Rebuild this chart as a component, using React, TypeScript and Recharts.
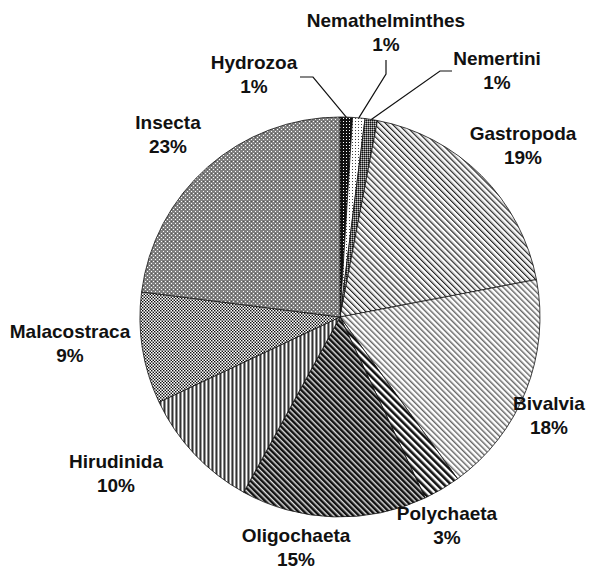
import { PieChart, Pie, Cell } from "recharts";

const categories = [
  "Hydrozoa", "Nemathelminthes", "Nemertini", "Gastropoda", "Bivalvia",
  "Polychaeta", "Oligochaeta", "Hirudinida", "Malacostraca", "Insecta",
];
const shares = [1, 1, 1, 19, 18, 3, 15, 10, 9, 23];
const patternIds = [
  "pHyd", "pNem", "pNmt", "pGas", "pBiv", "pPol", "pOli", "pHir", "pMal", "pIns",
];

const data = categories.map((name, i) => ({ name, value: shares[i] }));

// label anchor (first baseline) relative to pie centre
const labelPos: Record<string, [number, number]> = {
  Hydrozoa: [-86, -248],
  Nemathelminthes: [46, -290],
  Nemertini: [157, -252],
  Gastropoda: [183, -177],
  Bivalvia: [209, 93],
  Polychaeta: [107, 203],
  Oligochaeta: [-44, 225],
  Hirudinida: [-224, 151],
  Malacostraca: [-270, 21],
  Insecta: [-172, -188],
};

// leader lines for the tiny slices: start and elbow, relative to centre
const leaders: Record<string, [number, number][]> = {
  Hydrozoa: [[-40, -240], [-27, -240]],
  Nemathelminthes: [[46, -257], [46, -243]],
  Nemertini: [[112, -246], [100, -246]],
};

const RAD = Math.PI / 180;

const renderLabel = (props: any) => {
  const { cx, cy, midAngle, outerRadius, name, value } = props;
  const [dx, dy] = labelPos[name];
  const x = cx + dx;
  const y = cy + dy;
  const lead = leaders[name];
  let line = null;
  if (lead) {
    const ex = cx + outerRadius * Math.cos(-midAngle * RAD);
    const ey = cy + outerRadius * Math.sin(-midAngle * RAD);
    const pts = lead.map(([a, b]) => `${cx + a},${cy + b}`).join(" ") + ` ${ex},${ey}`;
    line = <polyline points={pts} fill="none" stroke="#111" strokeWidth={1.2} />;
  }
  return (
    <g key={name}>
      {line}
      <text
        x={x}
        y={y}
        textAnchor="middle"
        fill="#111"
        fontFamily="'Liberation Sans', Arial, sans-serif"
        fontWeight="bold"
        fontSize={19}
      >
        <tspan x={x}>{name}</tspan>
        <tspan x={x} dy={24}>{`${value}%`}</tspan>
      </text>
    </g>
  );
};

export default function App() {
  return (
    <div style={{ position: "absolute", left: 0, top: 0, background: "#fff" }}>
      <PieChart width={598} height={570}>
        <defs>
          <pattern id="pHyd" width="3" height="3" patternUnits="userSpaceOnUse">
            <rect width="3" height="3" fill="#111" />
            <rect x="1" y="1" width="1" height="1" fill="#fff" />
          </pattern>
          <pattern id="pNem" width="3" height="3" patternUnits="userSpaceOnUse">
            <rect width="3" height="3" fill="#fff" />
            <rect x="1" y="1" width="1" height="1" fill="#444" />
          </pattern>
          <pattern id="pNmt" width="2" height="2" patternUnits="userSpaceOnUse">
            <rect width="2" height="2" fill="#666" />
            <rect width="1" height="1" fill="#111" />
            <rect x="1" y="1" width="1" height="1" fill="#ccc" />
          </pattern>
          <pattern id="pGas" width="4.2" height="4.2" patternUnits="userSpaceOnUse" patternTransform="rotate(-45)">
            <rect width="4.2" height="4.2" fill="#fff" />
            <rect x="0" width="1" height="4.2" fill="#222" />
            <rect x="1" width="1" height="4.2" fill="#999" />
          </pattern>
          <pattern id="pBiv" width="4" height="4" patternUnits="userSpaceOnUse" patternTransform="rotate(-45)">
            <rect width="4" height="4" fill="#fff" />
            <rect x="0" width="1" height="4" fill="#666" />
            <rect x="1" width="1" height="4" fill="#bbb" />
          </pattern>
          <pattern id="pPol" width="5" height="5" patternUnits="userSpaceOnUse" patternTransform="rotate(-45)">
            <rect width="5" height="5" fill="#fff" />
            <rect x="0" width="2.6" height="5" fill="#111" />
          </pattern>
          <pattern id="pOli" width="4" height="4" patternUnits="userSpaceOnUse" patternTransform="rotate(-45)">
            <rect width="4" height="4" fill="#ddd" />
            <rect x="0" width="2.2" height="4" fill="#111" />
            <rect x="2.2" width="0.8" height="4" fill="#666" />
          </pattern>
          <pattern id="pHir" width="4" height="4" patternUnits="userSpaceOnUse">
            <rect width="4" height="4" fill="#fff" />
            <rect x="0" width="1" height="4" fill="#333" />
            <rect x="1" width="1" height="4" fill="#999" />
            <rect x="3" width="1" height="4" fill="#888" />
          </pattern>
          <pattern id="pMal" width="3" height="3" patternUnits="userSpaceOnUse">
            <rect width="3" height="3" fill="#999" />
            <rect x="0" y="0" width="1" height="1" fill="#111" />
            <rect x="1" y="1" width="1" height="1" fill="#111" />
            <rect x="1" y="0" width="1" height="1" fill="#fff" />
            <rect x="0" y="1" width="1" height="1" fill="#fff" />
          </pattern>
          <pattern id="pIns" width="4" height="4" patternUnits="userSpaceOnUse">
            <rect width="4" height="4" fill="#808080" />
            <rect x="1" y="1" width="1" height="1" fill="#fff" />
            <rect x="3" y="3" width="1" height="1" fill="#fff" />
            <rect x="3" y="1" width="1" height="1" fill="#555" />
          </pattern>
        </defs>
        <Pie
          data={data}
          dataKey="value"
          nameKey="name"
          cx={335}
          cy={312}
          outerRadius={200}
          startAngle={90}
          endAngle={-270}
          stroke="#111"
          strokeWidth={0.8}
          label={renderLabel}
          labelLine={false}
          isAnimationActive={false}
        >
          {data.map((d, i) => (
            <Cell key={d.name} fill={`url(#${patternIds[i]})`} />
          ))}
        </Pie>
      </PieChart>
    </div>
  );
}
